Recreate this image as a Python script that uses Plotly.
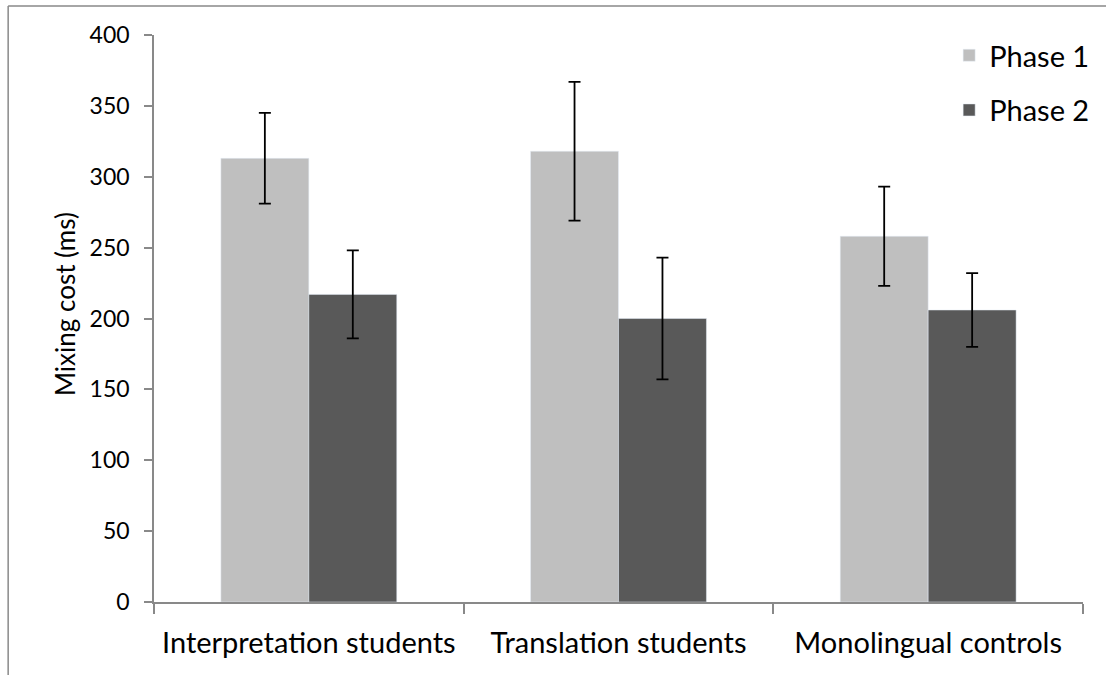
import plotly.graph_objects as go

# Mixing cost per group, two test phases (ms), with error bars
groups = ["Interpretation students", "Translation students", "Monolingual controls"]
phase1 = [313, 318, 258]
phase1_err = [32, 49, 35]
phase2 = [217, 200, 206]
phase2_err = [31, 43, 26]
y_ticks = [0, 50, 100, 150, 200, 250, 300, 350, 400]

FONT = "Lato"
AXIS_GREY = "#898989"

fig = go.Figure()
fig.add_trace(go.Bar(
    name="Phase 1", x=groups, y=phase1, marker_color="#BFBFBF", legendgroup="p1",
    error_y=dict(type="data", array=phase1_err, color="black", thickness=1.8, width=6),
))
fig.add_trace(go.Bar(
    name="Phase 2", x=groups, y=phase2, marker_color="#595959", legendgroup="p2",
    error_y=dict(type="data", array=phase2_err, color="black", thickness=1.8, width=6),
))

fig.update_layout(
    width=1106, height=675,
    margin=dict(l=154, r=22, t=35, b=73),
    paper_bgcolor="white", plot_bgcolor="white",
    barmode="group", bargap=0.432, bargroupgap=0,
    font=dict(family=FONT, size=23, color="black"),
    showlegend=True,
    legend=dict(x=0.855, y=1.009, xanchor="left", yanchor="top",
                bgcolor="rgba(0,0,0,0)", font=dict(size=29),
                traceorder="grouped", tracegroupgap=14),
    xaxis=dict(
        showline=True, linecolor=AXIS_GREY, linewidth=1.5,
        ticks="outside", tickson="boundaries", ticklen=10, tickcolor=AXIS_GREY, tickwidth=1.5,
        showgrid=False, zeroline=False, tickfont=dict(size=29),
        ticklabelstandoff=14,
    ),
    yaxis=dict(
        range=[0, 400], tickvals=y_ticks,
        showline=True, linecolor=AXIS_GREY, linewidth=1.5,
        ticks="outside", ticklen=8, tickcolor=AXIS_GREY, tickwidth=1.5,
        showgrid=False, zeroline=False,
        ticklabelstandoff=10,
    ),
    annotations=[dict(
        text="Mixing cost (ms)", textangle=-90, xref="paper", yref="paper",
        x=(65 - 154) / 930, y=(602 - 304) / 567, xanchor="center", yanchor="middle",
        showarrow=False, font=dict(size=26),
    )],
    shapes=[
        # outer frame (top and left edges)
        dict(type="line", xref="paper", yref="paper",
             x0=(8 - 154) / 930, x1=(1110 - 154) / 930,
             y0=(602 - 6) / 567, y1=(602 - 6) / 567,
             line=dict(color=AXIS_GREY, width=1.5)),
        dict(type="line", xref="paper", yref="paper",
             x0=(8 - 154) / 930, x1=(8 - 154) / 930,
             y0=(602 - 6) / 567, y1=(602 - 680) / 567,
             line=dict(color=AXIS_GREY, width=1.5)),
    ],
)

fig.write_html("out.html")
